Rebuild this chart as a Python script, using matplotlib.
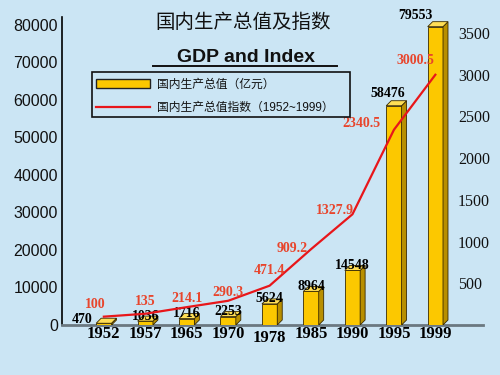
import numpy as np
import matplotlib.pyplot as plt
from matplotlib.patches import Patch, Rectangle
from matplotlib.lines import Line2D

# data
years = ['1952', '1957', '1965', '1970', '1978', '1985', '1990', '1995', '1999']
gdp = [470, 1036, 1716, 2253, 5624, 8964, 14548, 58476, 79553]
index = [100, 135, 214.1, 290.3, 471.4, 909.2, 1327.9, 2340.5, 3000.5]
index_labels = ['100', '135', '214.1', '290.3', '471.4', '909.2', '1327.9', '2340.5', '3000.5']
left_ticks = [0, 10000, 20000, 30000, 40000, 50000, 60000, 70000, 80000]
right_ticks = [500, 1000, 1500, 2000, 2500, 3000, 3500]

bg = '#cbe5f4'
gold = '#fcc800'
gold_side = '#b88f00'
gold_top = '#ffde55'
red = '#e8161a'
red_txt = '#e8452c'
cjk = ['Noto Sans CJK SC', 'DejaVu Sans']
leg_font = ['Liberation Sans', 'Noto Sans CJK SC']
serif = 'Liberation Serif'
sans = 'Liberation Sans'

px = 1 / 1.3889  # pixels -> points at dpi 100

fig = plt.figure(figsize=(5, 3.75), dpi=100)
fig.patch.set_facecolor(bg)

ax = fig.add_axes([62 / 500, 50 / 375, 421 / 500, 308 / 375])
ax.set_facecolor('none')
ax.set_xlim(-1.01, 9.15)
ax.set_ylim(0, 82133)

x = np.arange(len(years))
w = 0.37
dx = 0.12      # depth of the fake 3d bar (x, data units)
dy = 1333      # depth of the fake 3d bar (y, data units)

ax.bar(x, gdp, width=w, color=gold, edgecolor='#3a2a00', linewidth=0.6, zorder=3)
for xi, v in zip(x, gdp):
    x1 = xi + w / 2
    x0 = xi - w / 2
    ax.fill([x1, x1 + dx, x1 + dx, x1], [0, dy, v + dy, v],
            facecolor=gold_side, edgecolor='#3a2a00', linewidth=0.6, zorder=3)
    ax.fill([x0, x1, x1 + dx, x0 + dx], [v, v, v + dy, v + dy],
            facecolor=gold_top, edgecolor='#3a2a00', linewidth=0.6, zorder=3)

# bar value labels
nudge = {'1952': (-22, 4), '1995': (-6, 12), '1999': (-20, 11)}
for xi, v, yr in zip(x, gdp, years):
    ox, oy = nudge.get(yr, (0, 5))
    ax.annotate(f'{v}', (xi, v), xytext=(ox * px, oy * px), textcoords='offset points',
                ha='center', va='center', fontsize=10, fontweight='bold',
                family=serif, color='black', zorder=5)

# year labels under the baseline
for xi, yr in zip(x, years):
    off = -13 if yr == '1978' else -9
    ax.annotate(yr, (xi, 0), xycoords=('data', 'axes fraction'), xytext=(0, off * px),
                textcoords='offset points', ha='center', va='center',
                fontsize=12, fontweight='bold', family=serif)

ax.set_xticks([])
ax.set_yticks(left_ticks)
ax.set_yticklabels([str(t) for t in left_ticks], family=sans, fontsize=11.5, color='#111111')
ax.tick_params(axis='y', length=0, pad=3)
for s in ['top', 'right']:
    ax.spines[s].set_visible(False)
ax.spines['left'].set_linewidth(1.2)
ax.spines['bottom'].set_color('#6b7880')
ax.spines['bottom'].set_linewidth(2)

# index line on right axis
ax2 = ax.twinx()
ax2.set_ylim(0, 3693)
ax2.plot(x, index, color=red, linewidth=1.6, zorder=4)
ax2.set_yticks(right_ticks)
ax2.set_yticklabels([str(t) for t in right_ticks], family=serif, fontsize=11.5, color='#111111')
ax2.tick_params(axis='y', length=0, pad=-18)
for s in ax2.spines.values():
    s.set_visible(False)

idx_off = [(-9, 12), (0, 12), (0, 9), (0, 8), (0, 15), (-19, 1), (-18, 4), (-32, 6), (-20, 14)]
for xi, v, lab, (ox, oy) in zip(x, index, index_labels, idx_off):
    ax2.annotate(lab, (xi, v), xytext=(ox * px, oy * px), textcoords='offset points',
                 ha='center', va='center', fontsize=10, fontweight='bold',
                 family=serif, color=red_txt, zorder=6)

# titles
fig.text(243 / 500, 1 - 22 / 375, '国内生产总值及指数', ha='center', va='center',
         fontsize=14, family=cjk, color='#111111')
fig.text(246 / 500, 1 - 57 / 375, 'GDP and Index', ha='center', va='center',
         fontsize=14, fontweight='bold', family=sans, color='#111111')
fig.add_artist(Line2D([153 / 500, 337 / 500], [1 - 66 / 375, 1 - 66 / 375],
                      color='#111111', linewidth=1.4, transform=fig.transFigure))

# legend (frame drawn separately to match the box size)
handles = [Patch(facecolor=gold, edgecolor='#222222', linewidth=1.0),
           Line2D([], [], color=red, linewidth=1.6)]
leg = fig.legend(handles, ['国内生产总值（亿元）', '国内生产总值指数（1952~1999）'],
                 loc='upper left', bbox_to_anchor=(92 / 500, 1 - 75 / 375),
                 prop={'family': leg_font, 'size': 8.5}, frameon=False,
                 handlelength=4.6, handleheight=0.75, handletextpad=0.6,
                 labelspacing=0.95, borderpad=0.3, borderaxespad=0)
for t in leg.get_texts():
    t.set_color('#111111')
fig.add_artist(Rectangle((92 / 500, 1 - 117 / 375), 258 / 500, 45 / 375,
                         transform=fig.transFigure, fill=False,
                         edgecolor='#111111', linewidth=1.2))

plt.savefig('out.png', dpi=100, facecolor=bg)
